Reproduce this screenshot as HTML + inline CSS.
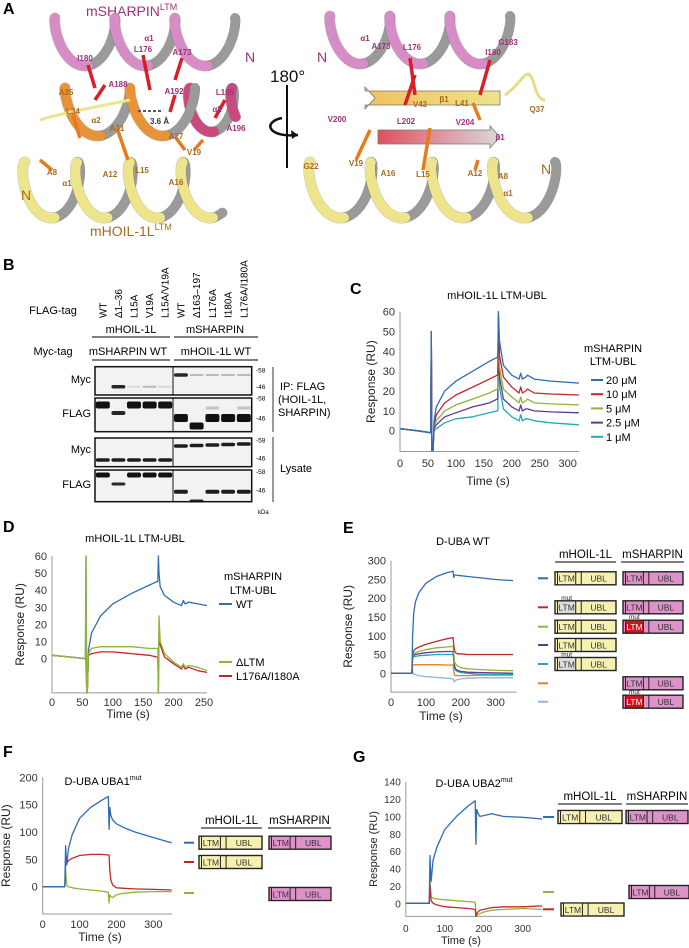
<!DOCTYPE html>
<html><head><meta charset="utf-8">
<style>
html,body{margin:0;padding:0;background:#fff;}
svg{display:block;font-family:"Liberation Sans",Arial,sans-serif;}
.lab{font-size:8px;font-weight:bold;}
.pk{fill:#a0307a;}
.og{fill:#a86a1e;}
.tk{font-size:11px;fill:#333;}
.pl{font-size:16px;font-weight:bold;}
</style></head>
<body>
<svg id="fig" width="689" height="948" viewBox="0 0 689 948" xmlns="http://www.w3.org/2000/svg">
<g id="panelA">
<text x="3" y="14" class="pl">A</text>
<text x="86" y="16" font-size="14" fill="#a0307a">mSHARPIN<tspan font-size="9" dy="-6">LTM</tspan></text>
<text x="90" y="236" font-size="14" fill="#a86a1e">mHOIL-1L<tspan font-size="9" dy="-6">LTM</tspan></text>
<g id="helices"></g>
<line x1="287" y1="85" x2="287" y2="168" stroke="#111" stroke-width="2"/>
<path d="M282,118 C262,122 268,138 298,135" fill="none" stroke="#111" stroke-width="2.5"/>
<path d="M298,135 l-7,-5 l1,9 z" fill="#111"/>
<text x="270" y="82" font-size="17" fill="#111">180°</text>
<line x1="138" y1="111" x2="162" y2="111" stroke="#556" stroke-width="2" stroke-dasharray="3,2"/>
<g id="alabels"></g>
</g>

<g id="panelB">
<text x="3" y="270" class="pl">B</text>
<text x="53" y="314" font-size="11" text-anchor="middle">FLAG-tag</text>
<g id="lanes" font-size="10"></g>
<text x="131" y="333" font-size="11" text-anchor="middle">mHOIL-1L</text>
<line x1="92" y1="337" x2="170" y2="337" stroke="#333" stroke-width="1.2"/>
<text x="215" y="333" font-size="11" text-anchor="middle">mSHARPIN</text>
<line x1="174" y1="337" x2="258" y2="337" stroke="#333" stroke-width="1.2"/>
<text x="53" y="355" font-size="11" text-anchor="middle">Myc-tag</text>
<text x="128" y="355" font-size="11" text-anchor="middle">mSHARPIN WT</text>
<line x1="92" y1="360" x2="170" y2="360" stroke="#333" stroke-width="1.2"/>
<text x="216" y="355" font-size="11" text-anchor="middle">mHOIL-1L WT</text>
<line x1="174" y1="360" x2="258" y2="360" stroke="#333" stroke-width="1.2"/>
<g id="blots"></g>
<text x="258" y="514" font-size="6">kDa</text>
<line x1="273" y1="367" x2="273" y2="432" stroke="#333" stroke-width="1"/>
<line x1="273" y1="437" x2="273" y2="502" stroke="#333" stroke-width="1"/>
<text x="280" y="390" font-size="11">IP: FLAG</text>
<text x="278" y="403" font-size="11">(HOIL-1L,</text>
<text x="278" y="416" font-size="11">SHARPIN)</text>
<text x="280" y="472" font-size="11">Lysate</text>
</g>

<text x="350" y="294" class="pl">C</text>
<text x="3" y="532" class="pl">D</text>
<text x="343" y="533" class="pl">E</text>
<text x="3" y="757" class="pl">F</text>
<text x="353" y="762" class="pl">G</text>
<g id="charts"></g>
<g id="domains"></g>
</svg>

<script>
const tC = [0, 30, 55, 56, 57, 59, 61, 65, 80, 100, 130, 160, 174, 175, 176, 178, 185, 200, 213, 216, 219, 225, 228, 240, 270, 320];
const c20 = [1, 0, -1, 50, -10, -10, 5, 12, 20, 25, 30, 35, 37, 37, 60, 45, 33, 28, 26, 29, 26, 27, 28, 26, 25, 24];
const c10 = [1, 0, -1, 50, -10, -10, 3, 8, 14, 18, 22, 26, 28, 28, 58, 38, 27, 22, 19, 22, 19, 20, 21, 19, 18.5, 18];
const c5 = [1, 0, -1, 48, -10, -10, 2, 5, 10, 13, 16, 19, 21, 21, 55, 32, 21, 17, 14, 17, 14, 15, 16, 14, 13.5, 13];
const c2_5 = [1, 0, -1, 48, -10, -10, 1, 3, 7, 9, 12, 14, 16, 16, 52, 27, 16, 12, 10, 13, 10, 11, 11, 10, 9.5, 9];
const c1 = [1, 0, -1, 48, -10, -10, 0, 1, 4, 6, 7, 9, 10, 10, 50, 22, 11, 7, 5, 8, 5, 6, 6, 5, 4, 3];
const cLegend = ["20 \u03bcM", "10 \u03bcM", "5 \u03bcM", "2.5 \u03bcM", "1 \u03bcM"];

const tD = [0, 30, 55, 56, 57, 58, 60, 65, 80, 100, 130, 160, 172, 174, 175, 176, 178, 185, 200, 213, 216, 219, 225, 240, 255];
const dWT = [2, 1, 0, 60, -20, -20, 5, 15, 25, 32, 38, 43, 45, 45, 60, 50, 42, 37, 33, 31, 34, 32, 33, 32, 31];
const dLTM = [2, 1, 0, 60, -20, -20, 3, 6, 7, 7, 7, 6, 6, 6, -20, 25, 10, 3, -2, -5, -3, -5, -4, -5, -7];
const dMut = [2, 1, 0, 0, -20, -20, 2, 3, 4, 4, 3, 2, 1, 1, -20, 15, 8, 1, -3, -6, -4, -6, -5, -7, -8];
const dLegend = ["WT", "\u0394LTM", "L176A/I180A"];

const tE = [0, 60, 62, 65, 70, 80, 100, 130, 160, 178, 180, 182, 185, 190, 200, 220, 250, 300, 350];
const eBlue = [0, 0, 100, 160, 190, 215, 240, 258, 268, 272, 255, 262, 262, 261, 260, 258, 255, 250, 247];
const eRed = [0, 0, 50, 60, 65, 70, 77, 85, 92, 95, 75, 60, 55, 52, 52, 50, 50, 50, 50];
const eGreen = [0, 0, 45, 52, 55, 58, 63, 68, 70, 72, 55, 30, 25, 20, 15, 12, 10, 8, 7];
const ePurple = [0, 0, 45, 48, 50, 52, 55, 57, 58, 58, 40, 20, 12, 8, 5, 3, 2, 1, 0];
const eCyan = [0, 0, 40, 44, 45, 47, 48, 50, 50, 50, 35, 15, 8, 5, 2, 0, -2, -3, -3];
const eOrange = [0, 0, 20, 22, 23, 23, 23, 23, 22, 22, 5, -5, -6, -6, -6, -6, -5, -5, -5];
const eLight = [0, 0, 5, -2, -4, -6, -9, -11, -13, -15, -20, -22, -18, -17, -15, -13, -12, -12, -12];

const tF = [0, 60, 62, 65, 70, 80, 100, 130, 160, 178, 180, 182, 185, 190, 200, 220, 250, 300, 350];
const fBlue = [0, 0, 75, 40, 70, 95, 125, 145, 158, 165, 105, 145, 130, 122, 115, 108, 100, 90, 80];
const fRed = [0, 0, 40, 42, 48, 52, 57, 59, 59, 58, 58, 30, 12, 3, -2, -3, -4, -5, -6];
const fGreen = [0, 0, 30, 3, 0, -2, -4, -6, -8, -10, -30, -15, -18, -20, -15, -12, -10, -9, -9];

const tG = [0, 60, 62, 65, 70, 80, 100, 130, 160, 178, 180, 182, 185, 190, 200, 220, 250, 300, 350];
const gBlue = [0, 0, 55, 25, 50, 65, 85, 100, 112, 118, 68, 108, 104, 100, 101, 103, 100, 99, 97];
const gRed = [0, 0, 20, 3, 0, -2, -4, -5, -6, -7, -15, -12, -10, -8, -7, -5, -4, -4, -3];
const gGreen = [0, 0, 25, 7, 6, 5, 4, 3, 2, 1, -10, -15, -13, -12, -10, -8, -7, -6, -7];

const COL = {blue:"#2f6db3", red:"#c2262c", green:"#8fb43a", purple:"#5a3d94", cyan:"#1fa9ba", orange:"#e8801d", light:"#92b4dc"};
const NS = "http://www.w3.org/2000/svg";
function mk(tag, attrs, parent){ const e=document.createElementNS(NS,tag); for(const k in attrs) e.setAttribute(k,attrs[k]); if(parent) parent.appendChild(e); return e; }
function txt(parent, x, y, s, attrs){ const e=mk("text", Object.assign({x:x,y:y}, attrs||{}), parent); e.textContent=s; return e; }

const charts = document.getElementById("charts");

function chart(o){
  const g = mk("g", {}, charts);
  
  
  const sx = v => o.x0 + v*o.kx;
  const sy = v => o.y0 - v*o.ky;
  const yb = sy(o.ymin);
  const ax = mk("path", {d:`M${o.x0},${sy(o.ymax)} L${o.x0},${yb} L${sx(o.xmax)},${yb}`, fill:"none", stroke:"#999", "stroke-width":1}, g);
  
  
  o.yticks.forEach(v=>{
    const t = txt(g, o.x0-5, sy(v)+4, String(v), {"text-anchor":"end", "font-size":o.fs, fill:"#333"});
    
    
  });
  o.xticks.forEach(v=>{
    const t = txt(g, sx(v), o.xlabY, String(v), {"text-anchor":"middle", "font-size":o.fs, fill:"#333"});
    
    
  });
  const xt = txt(g, o.xtitle[0], o.xtitle[1], "Time (s)", {"text-anchor":"middle", "font-size":o.fs+1, fill:"#222"});
  
  
  const ymid = (sy(o.ymax)+yb)/2;
  const yt = txt(g, o.ytx, ymid, "Response (RU)", {"text-anchor":"middle", "font-size":o.fs+1, fill:"#222", transform:`rotate(-90 ${o.ytx} ${ymid})`});
  
  
  o.series.forEach(s=>{
    const pts = s.t.map((t,i)=> `${sx(t).toFixed(1)},${sy(Math.max(o.ymin, Math.min(o.ymax, s.v[i]))).toFixed(1)}`).join(" ");
    const p = mk("polyline", {points:pts, fill:"none", stroke:s.c, "stroke-width":1.3, "stroke-linejoin":"round"}, g);
    
    
  });
  return g;
}

const gC = chart({name:"panel-c-chart", x0:400, kx:167.7/300, y0:430.7, ky:119/60, xmin:0, xmax:320, ymin:-10.5, ymax:60,
  yticks:[0,10,20,30,40,50,60], xticks:[0,50,100,150,200,250,300], xlabY:467, xtitle:[488,485], ytx:375, fs:11,
  series:[{t:tC,v:c1,c:COL.cyan,n:"series-1uM"},{t:tC,v:c2_5,c:COL.purple,n:"series-2-5uM"},{t:tC,v:c5,c:COL.green,n:"series-5uM"},{t:tC,v:c10,c:COL.red,n:"series-10uM"},{t:tC,v:c20,c:COL.blue,n:"series-20uM"}]});
txt(gC, 497, 299, "mHOIL-1L  LTM-UBL", {"text-anchor":"middle","font-size":11});
txt(gC, 613, 352, "mSHARPIN", {"text-anchor":"middle","font-size":11});
txt(gC, 613, 365, "LTM-UBL", {"text-anchor":"middle","font-size":11});
[COL.blue,COL.red,COL.green,COL.purple,COL.cyan].forEach((c,i)=>{
  const y = 380+i*14.2;
  const l = mk("line",{x1:591,x2:603,y1:y,y2:y,stroke:c,"stroke-width":2},gC);
  
  
  const t = txt(gC, 606, y+4, cLegend[i], {"font-size":11});
  
  
});

const gD = chart({name:"panel-d-chart", x0:52, kx:152/250, y0:658.7, ky:102.7/60, xmin:0, xmax:255, ymin:-20, ymax:60,
  yticks:[0,10,20,30,40,50,60], xticks:[0,50,100,150,200,250], xlabY:706, xtitle:[128,718], ytx:24, fs:11,
  series:[{t:tD,v:dWT,c:COL.blue,n:"series-wt"},{t:tD,v:dMut,c:COL.red,n:"series-l176a-i180a"},{t:tD,v:dLTM,c:COL.green,n:"series-delta-ltm"}]});
txt(gD, 135, 542, "mHOIL-1L  LTM-UBL", {"text-anchor":"middle","font-size":11});
txt(gD, 253, 580, "mSHARPIN", {"text-anchor":"middle","font-size":11});
txt(gD, 253, 594, "LTM-UBL", {"text-anchor":"middle","font-size":11});
[[COL.blue,604],[COL.green,662],[COL.red,676]].forEach((a,i)=>{
  const l = mk("line",{x1:219,x2:232,y1:a[1],y2:a[1],stroke:a[0],"stroke-width":2},gD);
  
  
  const t = txt(gD, 236, a[1]+4, dLegend[i], {"font-size":11});
  
  
});

const gE = chart({name:"panel-e-chart", x0:391, kx:104.7/300, y0:673.3, ky:112.6/300, xmin:0, xmax:360, ymin:-50, ymax:300,
  yticks:[0,50,100,150,200,250,300], xticks:[0,100,200,300], xlabY:706, xtitle:[441,720], ytx:352, fs:11,
  series:[{t:tE,v:eLight,c:COL.light,n:"series-e-light"},{t:tE,v:eOrange,c:COL.orange,n:"series-e-orange"},{t:tE,v:eCyan,c:COL.cyan,n:"series-e-cyan"},{t:tE,v:ePurple,c:COL.purple,n:"series-e-purple"},{t:tE,v:eGreen,c:COL.green,n:"series-e-green"},{t:tE,v:eRed,c:COL.red,n:"series-e-red"},{t:tE,v:eBlue,c:COL.blue,n:"series-e-blue"}]});
txt(gE, 463, 545, "D-UBA WT", {"text-anchor":"middle","font-size":11});

const gF = chart({name:"panel-f-chart", x0:42.7, kx:110.6/300, y0:886.7, ky:109.4/200, xmin:0, xmax:350, ymin:-50, ymax:200,
  yticks:[0,50,100,150,200], xticks:[0,100,200,300], xlabY:928, xtitle:[100,941], ytx:10, fs:11,
  series:[{t:tF,v:fGreen,c:COL.green,n:"series-f-green"},{t:tF,v:fRed,c:COL.red,n:"series-f-red"},{t:tF,v:fBlue,c:COL.blue,n:"series-f-blue"}]});
const tf = txt(gF, 103, 785, "D-UBA UBA1", {"text-anchor":"middle","font-size":11});
mk("tspan",{"font-size":7,dy:-5},tf).textContent="mut";

const gG = chart({name:"panel-g-chart", x0:405.8, kx:116.9/300, y0:903.3, ky:121.6/140, xmin:0, xmax:350, ymin:-15, ymax:140,
  yticks:[0,20,40,60,80,100,120,140], xticks:[0,100,200,300], xlabY:932, xtitle:[461,944], ytx:377, fs:10,
  series:[{t:tG,v:gGreen,c:COL.green,n:"series-g-green"},{t:tG,v:gRed,c:COL.red,n:"series-g-red"},{t:tG,v:gBlue,c:COL.blue,n:"series-g-blue"}]});
const tg = txt(gG, 474, 787, "D-UBA UBA2", {"text-anchor":"middle","font-size":11});
mk("tspan",{"font-size":7,dy:-5},tg).textContent="mut";

const dom = document.getElementById("domains");
const YEL="#f6f1b0", PINK="#dd92c9";
function dbox(x, yc, w, kind, mut){
  const h=13, y=yc-h/2, g=mk("g",{},dom);
  
  
  const fill = kind==="H"?YEL:PINK;
  const lw = w*0.34;
  mk("rect",{x:x,y:y,width:w,height:h,fill:fill,stroke:"#222","stroke-width":1.4},g);
  let ltmFill = fill, ltmText="#333";
  if(mut){ ltmFill = kind==="H" ? "#dcdcdc" : "#d0141c"; if(kind==="S") ltmText="#fff"; }
  mk("rect",{x:x+2.5,y:y+0.7,width:lw-2.5,height:h-1.4,fill:ltmFill},g);
  mk("line",{x1:x+2.5,x2:x+2.5,y1:y,y2:y+h,stroke:"#222","stroke-width":1},g);
  mk("line",{x1:x+lw,x2:x+lw,y1:y,y2:y+h,stroke:"#222","stroke-width":1},g);
  mk("line",{x1:x+lw+w*0.09,x2:x+lw+w*0.09,y1:y,y2:y+h,stroke:"#222","stroke-width":1},g);
  txt(g, x+2.5+(lw-2.5)/2, yc+3.3, "LTM", {"text-anchor":"middle","font-size":8.5,fill:ltmText});
  txt(g, x+lw+w*0.09+(w-lw-w*0.09)/2, yc+3.3, "UBL", {"text-anchor":"middle","font-size":8.5,fill:"#333"});
  if(mut) txt(g, x+2.5+(lw-2.5)/2, y-1, "mut", {"text-anchor":"middle","font-size":6.5,fill:"#222"});
}
function hdr(x1,x2,y,s){
  const t = txt(dom,(x1+x2)/2,y-4,s,{"text-anchor":"middle","font-size":11.5});
  
  
  mk("line",{x1:x1,x2:x2,y1:y,y2:y,stroke:"#333","stroke-width":1.2},dom);
}
function dash(x1,x2,y,c){ mk("line",{x1:x1,x2:x2,y1:y,y2:y,stroke:c,"stroke-width":2},dom); }
hdr(555,616,562,"mHOIL-1L"); hdr(621,684,562,"mSHARPIN");
const eRows=[[578.3,COL.blue,"n","n"],[607.3,COL.red,"m","n"],[626.7,COL.green,"n","m"],[645,COL.purple,"n",null],[664,COL.cyan,"m",null],[683.3,COL.orange,null,"n"],[701.7,COL.light,null,"m"]];
eRows.forEach(r=>{ dash(538,548,r[0],r[1]); if(r[2]) dbox(555,r[0],61,"H",r[2]==="m"); if(r[3]) dbox(623,r[0],60,"S",r[3]==="m"); });
hdr(201,262,828,"mHOIL-1L"); hdr(268,331,828,"mSHARPIN");
dash(184,194,842.7,COL.blue); dbox(199,842.7,63,"H",false); dbox(269,842.7,62,"S",false);
dash(184,194,862,COL.red); dbox(199,862,63,"H",false);
dash(184,194,893,COL.green); dbox(269,894,62,"S",false);
hdr(558,622,804,"mHOIL-1L"); hdr(626,688,804,"mSHARPIN");
dash(543,554,817,COL.blue); dbox(558,817,64,"H",false); dbox(626,817,62,"S",false);
dash(543,554,892,COL.green); dbox(629,892,60,"S",false);
dash(543,554,909.3,COL.red); dbox(561,909.5,63,"H",false);

const lanesG = document.getElementById("lanes");
const laneNames = ["WT","\u03941\u201336","L15A","V19A","L15A/V19A","WT","\u0394163\u2013197","L176A","I180A","L176A/I180A"];
const laneX = [102.8,118.4,134,149.6,165.2,180.9,196.6,212.4,228.1,243.8];
laneNames.forEach((s,i)=>{
  const t = txt(lanesG, laneX[i]+3.5, 318, s, {transform:`rotate(-90 ${laneX[i]+3.5} 318)`});
  
  
});
const blots = document.getElementById("blots");
const boxes = [[366.7,28.3,"Myc",383],[398,33.7,"FLAG",417],[438,28.7,"Myc",453],[470,31.7,"FLAG",488]];
const kda = [[370,386.7],[398,418],[440,458],[471.7,490]];
boxes.forEach((b,i)=>{
  const r = mk("rect",{x:95,y:b[0],width:156.7,height:b[1],fill:"#f2f2f2",stroke:"#111","stroke-width":1.5},blots);
  
  
  mk("line",{x1:173,x2:173,y1:b[0],y2:b[0]+b[1],stroke:"#111","stroke-width":1},blots);
  txt(blots, 91, b[3], b[2], {"text-anchor":"end","font-size":11});
  txt(blots, 256, kda[i][0]+2.5, "-58", {"font-size":6.5});
  txt(blots, 256, kda[i][1]+2.5, "-46", {"font-size":6.5});
});
function band(i,y,op,h){ mk("rect",{x:laneX[i]-7,y:y-(h||5)/2,width:14,height:h||5,rx:2,fill:"#111",opacity:op},blots); }
band(1,386.7,0.9,3.5); band(2,386.7,0.1,2); band(3,386.7,0.25,2); band(4,386.7,0.12,2);
band(5,375,0.9,3.5); [6,7,8,9].forEach(i=>band(i,375,0.25,2));
[0,2,3,4].forEach(i=>band(i,405,1,7)); band(1,413,0.9,4);
[5,7,8,9].forEach(i=>band(i,418,1,8)); band(6,426,1,7); [7,9].forEach(i=>band(i,408,0.2,3));
[0,1,2,3,4].forEach(i=>band(i,460,0.95,3.5));
[5,6,7,8,9].forEach(i=>band(i,446-(i-5)*0.5,0.95,3.5));
[0,2,3,4].forEach(i=>band(i,475,1,5)); band(1,484,0.9,3);
[5,7,8,9].forEach(i=>band(i,491.7,0.95,4)); band(6,501,0.9,3);

const hel = document.getElementById("helices");
function helix(x0,x1,yc,r,turns,col,name){
  const g = mk("g",{},hel);
  
  
  const N = Math.round(turns*40), pts=[];
  for(let i=0;i<=N;i++){ const t=i/N, th=2*Math.PI*turns*t; pts.push([x0+(x1-x0)*t - r*0.45*Math.sin(th), yc - r*Math.cos(th), Math.sin(th)]); }
  const back=[], front=[];
  for(let i=0;i<N;i++){ (pts[i][2]<0?back:front).push(`M${pts[i][0].toFixed(1)},${pts[i][1].toFixed(1)}L${pts[i+1][0].toFixed(1)},${pts[i+1][1].toFixed(1)}`); }
  mk("path",{d:back.join(""),stroke:"#9a9a9a","stroke-width":10,fill:"none","stroke-linecap":"round"},g);
  mk("path",{d:front.join(""),stroke:"#555","stroke-width":11,fill:"none","stroke-linecap":"round",opacity:0.35},g);
  mk("path",{d:front.join(""),stroke:col,"stroke-width":10,fill:"none","stroke-linecap":"round"},g);
}
helix(55,235,42,24,3,"#d68cc4","left-sharpin-helix-a1");
helix(190,245,110,22,1.3,"#c94a7e","left-sharpin-helix-a2");
helix(65,195,112,24,2,"#e8923a","left-hoil-helix-a2");
helix(25,215,190,28,3.6,"#eee48a","left-hoil-helix-a1");
helix(330,510,40,24,3,"#d68cc4","right-sharpin-helix");
helix(310,555,190,28,4,"#eee48a","right-hoil-helix");
function strand(x1,x2,y,c1,c2,name){
  const g=mk("g",{},hel);
  
  
  const gr=mk("linearGradient",{id:name+"g"},g);
  mk("stop",{offset:"0",["stop-color"]:c1},gr); mk("stop",{offset:"1",["stop-color"]:c2},gr);
  mk("path",{d:`M${x1},${y-7} L${x2-10},${y-7} L${x2-10},${y-11} L${x2},${y} L${x2-10},${y+11} L${x2-10},${y+7} L${x1},${y+7} Z`,fill:`url(#${name}g)`,stroke:"#777","stroke-width":0.8},g);
}
strand(500,375,98,"#f0c060","#eee48a","strand-b1-hoil");
strand(378,500,137,"#e05060","#d9d9d9","strand-b1-sharpin");
mk("path",{d:"M505,95 C520,85 525,70 530,75 S535,100 545,100",fill:"none",stroke:"#e6dc88","stroke-width":3},hel);
mk("path",{d:"M130,100 C80,110 55,115 40,120",fill:"none",stroke:"#eee48a","stroke-width":3},hel);
[[88,65,95,88],[143,55,150,90],[182,58,175,80],[105,85,95,100],[175,95,170,112],[225,100,215,118],[410,58,415,95],[490,60,480,95],[405,105,415,75]].forEach(a=>mk("line",{x1:a[0],y1:a[1],x2:a[2],y2:a[3],stroke:"#d81f26","stroke-width":3.5},hel));
[[73,115,80,138],[117,128,128,160],[176,138,185,150],[194,150,203,140],[356,160,370,130],[423,170,430,128],[473,103,480,120],[52,170,40,160],[475,170,478,160]].forEach(a=>mk("line",{x1:a[0],y1:a[1],x2:a[2],y2:a[3],stroke:"#e87a1e","stroke-width":3.5},hel));

const al = document.getElementById("alabels");
const aLabels = [
 ["I180",85,61,"pk"],["L176",143,52,"pk"],["A173",182,55,"pk"],["\u03b11",149,41,"pk"],["A188",118,87,"pk"],["A192",174,94,"pk"],["L195",225,95,"pk"],["\u03b12",217,112,"pk"],["A196",236,131,"pk"],
 ["A35",66,95,"og"],["L34",73,114,"og"],["\u03b12",96,123,"og"],["A31",117,131,"og"],["A27",176,139,"og"],["V19",194,155,"og"],["A8",52,175,"og"],["A12",110,177,"og"],["L15",142,173,"og"],["A16",176,185,"og"],["\u03b11",67,186,"og"],
 ["\u03b11",365,41,"pk"],["A173",381,49,"pk"],["L176",412,50,"pk"],["I180",493,55,"pk"],["G183",508,45,"pk"],["V43",420,107,"og"],["\u03b21",444,102,"og"],["L41",462,106,"og"],["Q37",537,112,"og"],
 ["V200",337,122,"pk"],["L202",406,124,"pk"],["V204",465,125,"pk"],["\u03b21",500,140,"pk"],["G22",311,169,"og"],["V19",356,166,"og"],["A16",388,176,"og"],["L15",423,177,"og"],["A12",475,176,"og"],["A8",503,179,"og"],["\u03b11",508,196,"og"]
];
aLabels.forEach(a=>{
  const t = txt(al, a[1], a[2], a[0], {class:"lab "+a[3], "text-anchor":"middle"});
  
  
});
txt(al,150,124,"3.6 \u00c5",{"font-size":8,"font-weight":"bold",fill:"#333"});
[["N",250,62,"#a0307a"],["N",26,200,"#a86a1e"],["N",322,62,"#a0307a"],["N",546,174,"#a86a1e"]].forEach(a=>{
  const t = txt(al,a[1],a[2],a[0],{"font-size":14,fill:a[3],"text-anchor":"middle"});
  
  
});
</script>
</body></html>
